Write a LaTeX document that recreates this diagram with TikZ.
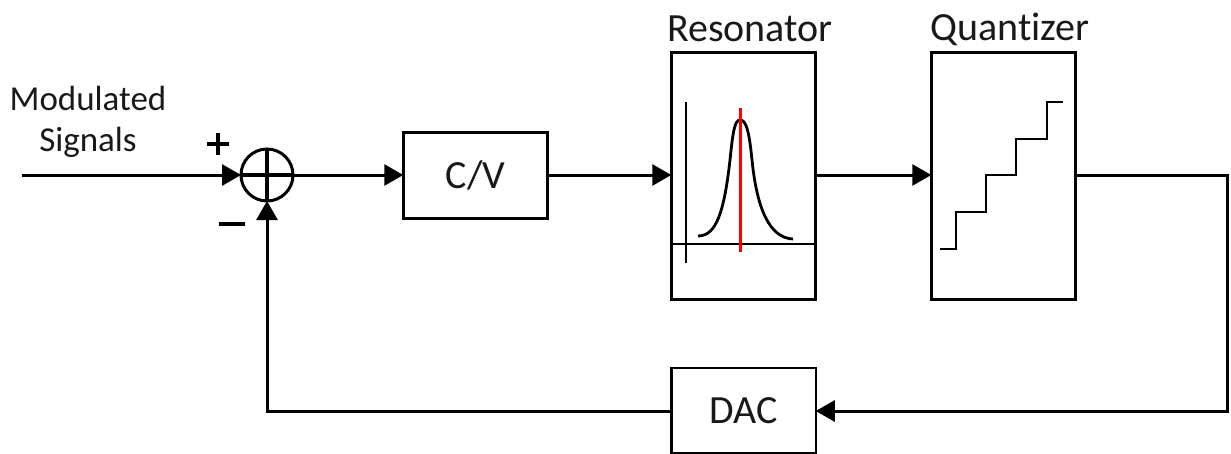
\documentclass[tikz,border=0pt]{standalone}
\usepackage{fontspec}
\setmainfont[Ligatures=NoCommon,Contextuals=NoAlternate]{Carlito}
\usetikzlibrary{arrows.meta,calc}
\tikzset{
  x=1pt,y=-1pt,
  blockbox/.style={draw=black,line width=3pt,minimum width=144.5pt,inner sep=0pt,outer sep=0pt,font=\fontsize{40}{40}\selectfont,text=black!90},
  lbl/.style={inner sep=0pt,font=\fontsize{40}{40}\selectfont,text=black!90,align=center},
  sidelbl/.style={inner sep=0pt,font=\fontsize{35}{41}\selectfont,text=black!90,align=center},
  conn/.style={line width=3pt,line join=miter,-{Triangle[length=19pt,width=21pt]}},
  trace/.style={line width=2.8pt,line join=miter}
}
\begin{document}
\begin{tikzpicture}
\useasboundingbox (0,0) rectangle (1231,453);
\node[blockbox,minimum height=86pt] (cv) at (475.5,175) {C/V};
\node[blockbox,minimum height=247pt] (res) at (743.5,175.5) {};
\node[blockbox,minimum height=247pt] (qua) at (1003.5,175.5) {};
\node[blockbox,line width=2.5pt,minimum height=85pt] (dac) at (743.5,410.5) {DAC};
\node[draw=black,line width=3pt,circle,minimum size=52pt,inner sep=0pt,outer sep=0pt] (sum) at (267,175) {};
\draw[line width=3.4pt] (sum.west) -- (sum.east) (sum.north) -- (sum.south);
\node[lbl] (restitle) at (750,29) {Resonator};
\node[lbl] (quatitle) at (1010,29) {Quantizer};
\node[sidelbl] (modlabel) at (88,122) {Modulated\\Signals};
\draw[line width=3.6pt] (207,144) -- (229,144) (218,133) -- (218,155);
\draw[line width=4.5pt] (219,224) -- (245,224);
\coordinate (in) at (22,175);
\coordinate (turn) at (1227,175);
\coordinate (corner) at (1227,411);
\coordinate (fb) at (267,411);
\draw[conn] (in) -- (sum.west);
\draw[conn] (sum.east) -- (cv.west);
\draw[conn] (cv.east) -- (cv.east -| res.west);
\draw[conn] (cv.east -| res.east) -- (cv.east -| qua.west);
\draw[conn] (cv.east -| qua.east) -- (turn) -- (corner) -- (corner -| dac.east);
\draw[conn] (corner -| dac.west) -- (fb) -- (sum.south);
% resonator plot
\draw[trace] (686,102) -- (686,263);
\draw[trace] (671,244) -- (815,244);
\draw[trace] (698,236) .. controls (716,236) and (724,213) .. (730,160)
  .. controls (733,130) and (735,120) .. (740,120)
  .. controls (746,120) and (749,130) .. (752,160)
  .. controls (757,210) and (770,238) .. (793,239);
\draw[red,line width=3pt] (740,108) -- (740,252);
% quantizer staircase
\draw[trace] (940,249) -- (956,249) -- (956,212) -- (986,212) -- (986,175) -- (1016,175) -- (1016,139) -- (1047,139) -- (1047,102) -- (1063,102);
\end{tikzpicture}
\end{document}
